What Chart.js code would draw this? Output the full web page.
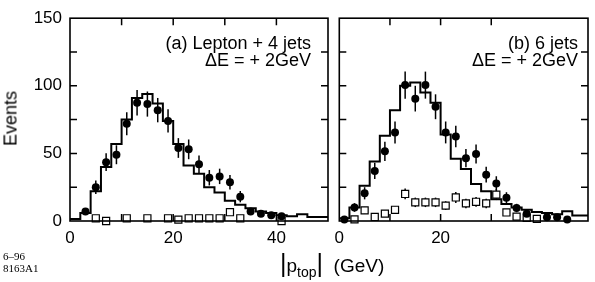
<!DOCTYPE html>
<html>
<head>
<meta charset="utf-8">
<script src="https://cdn.jsdelivr.net/npm/chart.js@4.4.1/dist/chart.umd.min.js"></script>
<style>
body { margin: 0; background: #fff; }
#wrap { position: relative; width: 595px; height: 282px; overflow: hidden; font-family: "Liberation Sans", Arial, sans-serif; color: #000; }
canvas { position: absolute; left: 0; top: 0; }
.note { position: absolute; text-align: right; font-size: 18px; line-height: 17px; white-space: nowrap; }
#ytitle { position: absolute; left: -17px; top: 108px; width: 56px; font-size: 18px; transform: rotate(-90deg); text-align: center; }
#xtitle { position: absolute; left: 280px; top: 249px; font-size: 19px; white-space: nowrap; }
#xtitle .bar { font-size: 25px; }
#xtitle sub { font-size: 14px; vertical-align: -5px; }
#stamp { position: absolute; left: 3px; top: 250px; font-family: "Liberation Serif", serif; font-size: 11px; line-height: 12px; }
</style>
</head>
<body>
<div id="wrap">
  <canvas id="panelA" width="595" height="282"></canvas>
  <canvas id="panelB" width="595" height="282"></canvas>
  <div class="note" style="right:284px; top:35px;">(a) Lepton + 4 jets<br>&Delta;E = + 2GeV</div>
  <div class="note" style="right:17px; top:35px;">(b) 6 jets<br>&Delta;E = + 2GeV</div>
  <div id="ytitle">Events</div>
  <div id="xtitle"><span class="bar">|</span>p<sub>top</sub><span class="bar">|</span>&nbsp;&nbsp;(GeV)</div>
  <div id="stamp">6&ndash;96<br>8163A1</div>
</div>
<script>
// Histogram bins (2 GeV wide), centres
const binCenters = [1, 3, 5, 7, 9, 11, 13, 15, 17, 19, 21, 23, 25, 27, 29, 31, 33, 35, 37, 39, 41, 43, 45, 47, 49];

// (a) Lepton + 4 jets
const histA = [1.5, 6, 22, 40, 57, 75, 91, 94, 87, 74, 57, 41, 35, 25, 21, 15, 12, 9.5, 7, 6, 4.3, 3.6, 5, 3, 3];
const dataXA = [3, 5, 7, 9, 11, 13, 15, 17, 19, 21, 23, 25, 27, 29, 31, 33, 35, 37, 39, 41];
const dataA = [7, 25, 43.5, 49, 72, 87.5, 86.5, 82, 74, 54, 53, 42, 32, 33, 28.7, 18, 7, 5.3, 4.2, 3.6];
const errA = [2.6, 5, 6.6, 7, 8.5, 9.4, 9.3, 9, 8.6, 7.3, 7.3, 6.5, 5.7, 5.7, 5.4, 4.2, 2.6, 2.3, 2, 1.9];
const bgXA = [5, 7, 11, 15, 19, 21, 23, 25, 27, 29, 31, 33, 41];
const bgA = [2, 0, 2, 2, 2, 1, 2, 2, 2, 2, 6.5, 2, 0];
const bgErrA = [0, 0, 0, 0, 0, 0, 0, 0, 0, 0, 0, 0, 0];

// (b) 6 jets
const histB = [2, 10, 26, 44, 63, 82, 100, 102.5, 95, 87.5, 64, 46, 38.5, 27.4, 22, 16, 12.6, 10, 8.3, 6.7, 6, 5, 7.3, 4, 4];
const dataXB = [1, 3, 5, 7, 9, 11, 13, 15, 17, 19, 21, 23, 25, 27, 29, 31, 33, 35, 37, 41, 43, 45];
const dataB = [1.2, 10, 20.5, 37, 51.5, 65.5, 100.5, 90.5, 100.5, 84.5, 65.5, 62.5, 46.5, 49.5, 34.3, 27.8, 17.2, 9.6, 5.3, 2.7, 2.7, 1.2];
const errB = [1, 3.2, 4.5, 6, 7.2, 8.1, 10, 9.5, 10, 9.2, 8.1, 7.9, 6.8, 7, 5.9, 5.3, 4.1, 3.1, 2.3, 1.6, 1.6, 1];
const bgXB = [3, 5, 7, 9, 11, 13, 15, 17, 19, 21, 23, 25, 27, 29, 31, 33, 35, 37, 39];
const bgB = [1.2, 7.9, 3, 5.5, 8.3, 20, 13.8, 13.8, 13.8, 11.4, 17.4, 13, 14.2, 13, 19.5, 6.3, 3.2, 2.4, 1.6];
const bgErrB = [1, 2.5, 1.5, 2, 2.5, 4, 3.5, 3.5, 3.5, 3.2, 4, 3.5, 3.6, 3.5, 4, 2.4, 1.7, 1.5, 1.2];

// Tick labels
const xLabels = [0, 20, 40];
const yLabels = [0, 50, 100, 150];

const FONT = '"Liberation Sans", Arial, sans-serif';

function toPoints(xs, ys) {
    return xs.map((x, i) => ({ x: x, y: ys[i] }));
}

// step histogram: left edge of every bin, then the right edge of the last one
function histPoints(values) {
    const pts = binCenters.map((c, i) => ({ x: c - 1, y: values[i] }));
    pts.push({ x: binCenters[binCenters.length - 1] + 1, y: values[values.length - 1] });
    return pts;
}

// vertical error bars under the markers
const errorBars = {
    id: 'errorBars',
    beforeDatasetsDraw(chart) {
        const ctx = chart.ctx;
        const xs = chart.scales.x, ys = chart.scales.y;
        ctx.save();
        ctx.strokeStyle = '#000';
        ctx.lineWidth = 1.5;
        chart.data.datasets.forEach(ds => {
            if (!ds.errors) return;
            ds.data.forEach((p, i) => {
                const e = ds.errors[i];
                if (!e) return;
                const px = xs.getPixelForValue(p.x);
                ctx.beginPath();
                ctx.moveTo(px, ys.getPixelForValue(Math.max(0, p.y - e)));
                ctx.lineTo(px, ys.getPixelForValue(p.y + e));
                ctx.stroke();
            });
        });
        ctx.restore();
    }
};

// box around the plot with inward ticks on all four sides
const frame = {
    id: 'frame',
    afterDraw(chart) {
        const ctx = chart.ctx;
        const a = chart.chartArea;
        const xs = chart.scales.x, ys = chart.scales.y;
        const len = 7;
        ctx.save();
        ctx.strokeStyle = '#000';
        ctx.lineWidth = 1.5;
        ctx.beginPath();
        xs.ticks.forEach(t => {
            const px = xs.getPixelForValue(t.value);
            if (px <= a.left + 1 || px >= a.right - 1) return;
            ctx.moveTo(px, a.bottom); ctx.lineTo(px, a.bottom - len);
            ctx.moveTo(px, a.top); ctx.lineTo(px, a.top + len);
        });
        ys.ticks.forEach(t => {
            const py = ys.getPixelForValue(t.value);
            if (py <= a.top + 1 || py >= a.bottom - 1) return;
            ctx.moveTo(a.left, py); ctx.lineTo(a.left + len, py);
            ctx.moveTo(a.right, py); ctx.lineTo(a.right - len, py);
        });
        ctx.stroke();
        ctx.lineWidth = 1.6;
        ctx.strokeRect(a.left, a.top, a.right - a.left, a.bottom - a.top);
        ctx.restore();
    }
};

function makePanel(id, hist, dx, dy, de, bx, by, be, cfg) {
    const ctx = document.getElementById(id).getContext('2d');
    return new Chart(ctx, {
        type: 'scatter',
        data: {
            datasets: [
                {
                    type: 'line',
                    data: histPoints(hist),
                    stepped: 'before',
                    borderColor: '#000',
                    borderWidth: 2,
                    pointRadius: 0,
                    fill: false,
                    order: 3
                },
                {
                    data: toPoints(bx, by),
                    errors: be,
                    pointStyle: 'rect',
                    pointRadius: 5,
                    backgroundColor: '#fff',
                    borderColor: '#000',
                    borderWidth: 1.2,
                    clip: false,
                    order: 2
                },
                {
                    data: toPoints(dx, dy),
                    errors: de,
                    pointStyle: 'circle',
                    pointRadius: 4,
                    backgroundColor: '#000',
                    borderWidth: 0,
                    clip: false,
                    order: 1
                }
            ]
        },
        options: {
            responsive: false,
            animation: false,
            events: [],
            layout: { padding: { top: 11, right: cfg.padRight, left: 0, bottom: 0 } },
            plugins: { legend: { display: false }, tooltip: { enabled: false } },
            scales: {
                x: {
                    type: 'linear',
                    min: 0,
                    max: cfg.xMax,
                    afterFit: s => { s.height = 61; },
                    grid: { display: false, drawTicks: false },
                    border: { display: false },
                    ticks: {
                        stepSize: 10,
                        autoSkip: false,
                        maxRotation: 0,
                        padding: 7,
                        color: '#000',
                        font: { family: FONT, size: 17 },
                        callback: v => xLabels.includes(v) ? String(v) : ''
                    }
                },
                y: {
                    min: 0,
                    max: 150,
                    afterFit: s => { s.width = cfg.yWidth; },
                    grid: { display: false, drawTicks: false },
                    border: { display: false },
                    ticks: {
                        stepSize: 25,
                        padding: 8,
                        color: '#000',
                        font: { family: FONT, size: 17 },
                        callback: v => (cfg.yLabels && yLabels.includes(v)) ? String(v) : ''
                    }
                }
            }
        },
        plugins: [errorBars, frame]
    });
}

makePanel('panelA', histA, dataXA, dataA, errA, bgXA, bgA, bgErrA,
    { xMax: 50, yWidth: 70, padRight: 267, yLabels: true });
makePanel('panelB', histB, dataXB, dataB, errB, bgXB, bgB, bgErrB,
    { xMax: 49.1, yWidth: 339.3, padRight: 2, yLabels: false });
</script>
</body>
</html>
